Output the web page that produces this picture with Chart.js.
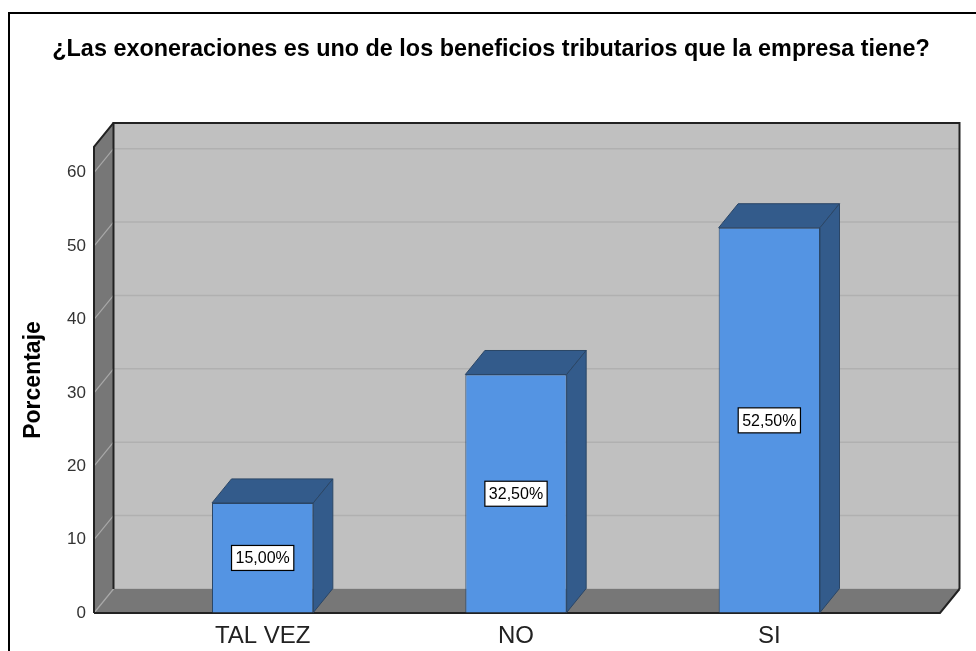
<!DOCTYPE html>
<html>
<head>
<meta charset="utf-8">
<script src="https://cdn.jsdelivr.net/npm/chart.js@4.4.1/dist/chart.umd.min.js"></script>
<style>
  html, body { margin: 0; padding: 0; background: #ffffff; }
  #wrap { width: 976px; height: 651px; position: relative; }
</style>
</head>
<body>
<div id="wrap"><canvas id="c" width="976" height="651"></canvas></div>
<script>
const categories = ["TAL VEZ", "NO", "SI"];
const percentages = [15.0, 32.5, 52.5];
const valueLabels = ["15,00%", "32,50%", "52,50%"];
const yTickValues = [0, 10, 20, 30, 40, 50, 60];
const chartTitle = "¿Las exoneraciones es uno de los beneficios tributarios que la empresa tiene?";
const yAxisTitle = "Porcentaje";

const FONT = "'Liberation Sans', Arial, sans-serif";
const DX = 19.5, DY = -24;          // 3D depth offset
const WALL_LEFT_EXT = 42;           // front wall extends left of category area
const WALL_RIGHT_EXT = 44;          // and right of it

const threeD = {
  id: 'threeD',
  beforeDraw(chart) {
    const ctx = chart.ctx;
    const ca = chart.chartArea;
    const y = chart.scales.y;
    const L = ca.left - WALL_LEFT_EXT, R = ca.right + WALL_RIGHT_EXT;
    const T = ca.top, B = ca.bottom;
    ctx.save();
    ctx.fillStyle = '#ffffff';
    ctx.fillRect(0, 0, chart.width, chart.height);
    // outer frame
    ctx.strokeStyle = '#000';
    ctx.lineWidth = 2;
    ctx.beginPath();
    ctx.moveTo(9, chart.height + 2);
    ctx.lineTo(9, 13);
    ctx.lineTo(chart.width + 2, 13);
    ctx.stroke();

    // back wall
    ctx.fillStyle = '#c0c0c0';
    ctx.fillRect(L + DX, T + DY, (R - L), (B - T));
    // back wall grid lines
    ctx.strokeStyle = '#b0b0b0';
    ctx.lineWidth = 1.5;
    yTickValues.forEach(v => {
      const py = y.getPixelForValue(v) + DY;
      ctx.beginPath();
      ctx.moveTo(L + DX, py);
      ctx.lineTo(R + DX, py);
      ctx.stroke();
    });
    // left side wall
    ctx.fillStyle = '#777777';
    ctx.beginPath();
    ctx.moveTo(L, T); ctx.lineTo(L + DX, T + DY); ctx.lineTo(L + DX, B + DY); ctx.lineTo(L, B);
    ctx.closePath(); ctx.fill();
    // floor
    ctx.beginPath();
    ctx.moveTo(L, B); ctx.lineTo(L + DX, B + DY); ctx.lineTo(R + DX, B + DY); ctx.lineTo(R, B);
    ctx.closePath(); ctx.fill();
    // side wall grid lines
    ctx.strokeStyle = '#a8a8a8';
    ctx.lineWidth = 1.2;
    yTickValues.forEach(v => {
      const py = y.getPixelForValue(v);
      ctx.beginPath();
      ctx.moveTo(L, py);
      ctx.lineTo(L + DX, py + DY);
      ctx.stroke();
    });
    // back wall outline
    ctx.strokeStyle = '#222';
    ctx.lineWidth = 2;
    ctx.beginPath();
    ctx.moveTo(L + DX, B + DY);
    ctx.lineTo(L + DX, T + DY);
    ctx.lineTo(R + DX, T + DY);
    ctx.lineTo(R + DX, B + DY);
    ctx.stroke();
    // left wall outline
    ctx.beginPath();
    ctx.moveTo(L + DX, T + DY); ctx.lineTo(L, T); ctx.lineTo(L, B);
    ctx.stroke();
    // floor outline
    ctx.beginPath();
    ctx.moveTo(L, B); ctx.lineTo(R, B); ctx.lineTo(R + DX, B + DY);
    ctx.stroke();
    ctx.restore();
  },
  afterDatasetsDraw(chart) {
    const ctx = chart.ctx;
    const meta = chart.getDatasetMeta(0);
    ctx.save();
    meta.data.forEach((bar, i) => {
      const half = bar.width / 2;
      const x0 = bar.x - half, x1 = bar.x + half;
      const top = bar.y, base = bar.base;
      ctx.fillStyle = '#335b8b';
      ctx.strokeStyle = '#2b4666';
      ctx.lineWidth = 1;
      // top face
      ctx.beginPath();
      ctx.moveTo(x0, top); ctx.lineTo(x0 + DX, top + DY); ctx.lineTo(x1 + DX, top + DY); ctx.lineTo(x1, top);
      ctx.closePath(); ctx.fill(); ctx.stroke();
      // side face
      ctx.beginPath();
      ctx.moveTo(x1, top); ctx.lineTo(x1 + DX, top + DY); ctx.lineTo(x1 + DX, base + DY); ctx.lineTo(x1, base);
      ctx.closePath(); ctx.fill(); ctx.stroke();
      // value label box
      const midY = chart.scales.y.getPixelForValue(percentages[i] / 2);
      ctx.font = '16px ' + FONT;
      const tw = ctx.measureText(valueLabels[i]).width;
      const bw = tw + 8, bh = 25;
      ctx.fillStyle = '#ffffff';
      ctx.fillRect(bar.x - bw / 2, midY - bh / 2, bw, bh);
      ctx.strokeStyle = '#000';
      ctx.lineWidth = 1.2;
      ctx.strokeRect(bar.x - bw / 2, midY - bh / 2, bw, bh);
      ctx.fillStyle = '#000';
      ctx.textAlign = 'center';
      ctx.textBaseline = 'middle';
      ctx.fillText(valueLabels[i], bar.x, midY + 1);
    });
    ctx.restore();
  }
};

new Chart(document.getElementById('c'), {
  type: 'bar',
  data: {
    labels: categories,
    datasets: [{
      data: percentages,
      backgroundColor: '#5494e3',
      borderColor: '#2b4666',
      borderWidth: 1,
      barPercentage: 0.4,
      categoryPercentage: 1.0
    }]
  },
  options: {
    responsive: false,
    animation: false,
    devicePixelRatio: 1,
    layout: { padding: { left: 6, right: 0, top: 0, bottom: 0 } },
    plugins: {
      legend: { display: false },
      tooltip: { enabled: false },
      title: {
        display: true,
        text: chartTitle,
        color: '#000',
        font: { family: FONT, size: 23.4, weight: 'bold' },
        padding: { top: 36, bottom: 82.9 }
      }
    },
    scales: {
      x: {
        grid: { display: false, drawTicks: false },
        border: { display: false },
        ticks: {
          color: '#222',
          font: { family: FONT, size: 24 },
          padding: 8.6,
          maxRotation: 0
        },
        afterFit(scale) { scale.height = 38; }
      },
      y: {
        min: 0,
        max: 63.5,
        grid: { display: true, drawOnChartArea: false, drawTicks: true, tickLength: 46, color: 'rgba(0,0,0,0)' },
        border: { display: false },
        ticks: {
          stepSize: 10,
          includeBounds: false,
          color: '#333',
          font: { family: FONT, size: 17 },
          padding: 4
        },
        title: {
          display: true,
          text: yAxisTitle,
          color: '#000',
          font: { family: FONT, size: 23, weight: 'bold' },
          padding: { top: 14.2, bottom: 0 }
        },
        afterFit(scale) { scale.width = 130; }
      },
      yRight: {
        type: 'linear',
        position: 'right',
        display: true,
        grid: { display: false, drawTicks: false },
        border: { display: false },
        ticks: { display: false },
        afterFit(scale) { scale.width = 80; }
      }
    }
  },
  plugins: [threeD]
});
</script>
</body>
</html>
